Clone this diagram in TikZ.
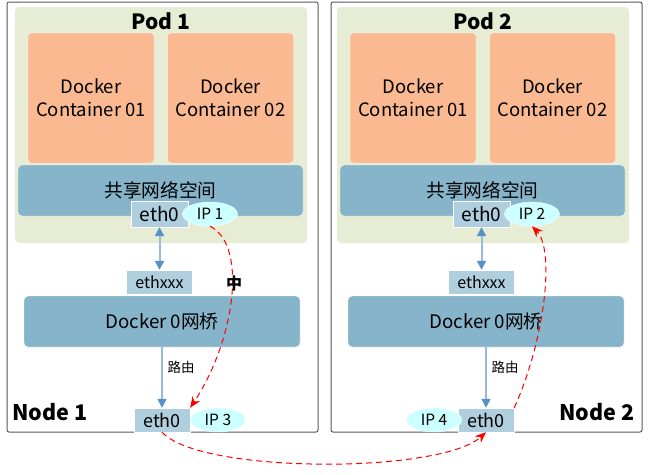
\documentclass[tikz,border=0pt]{standalone}
\usepackage{fontspec}
\setmainfont{Noto Sans CJK SC}
\usepackage{tikz}
\usetikzlibrary{arrows.meta,positioning,shapes.geometric}

\definecolor{podbg}{RGB}{230,237,212}
\definecolor{ctorange}{RGB}{250,185,145}
\definecolor{netblue}{RGB}{134,180,202}
\definecolor{ethblue}{RGB}{175,206,222}
\definecolor{ipcyan}{RGB}{204,255,255}
\definecolor{tipblue}{RGB}{88,144,200}
\definecolor{shaftblue}{RGB}{152,186,222}

\begin{document}
\begin{tikzpicture}[x=1pt,y=-1pt,
  frame/.style={draw=black!65,line width=1pt,rounded corners=2pt,fill=white,
    minimum width=311pt,minimum height=430pt},
  podbox/.style={fill=podbg,rounded corners=4pt,minimum width=292pt,minimum height=236pt},
  ctbox/.style={draw=white,fill=ctorange,rounded corners=3pt,align=center,
    minimum width=126pt,minimum height=130pt,font=\fontsize{18.5}{23}\selectfont},
  netbox/.style={draw=white,fill=netblue,rounded corners=4pt,minimum height=51pt,
    font=\fontsize{18.7}{18.7}\selectfont},
  ethbox/.style={draw=white,fill=ethblue,inner sep=0pt,minimum height=24pt,
    font=\fontsize{18}{18}\selectfont},
  ipell/.style={ellipse,draw=white,fill=ipcyan,inner sep=0pt,
    minimum width=55pt,minimum height=24pt,font=\fontsize{15.5}{15.5}\selectfont},
  link/.style={draw=shaftblue,line width=2pt},
  bluetip/.style={arrows={-{Triangle[width=9pt,length=9pt,color=tipblue]}}},
  hop/.style={red,line width=1pt,dash pattern=on 6pt off 4pt,
    -{Stealth[length=11pt,width=9pt]}}]
  \useasboundingbox (0,0) rectangle (648,474);
  % two hosts, one pod on each
  \foreach \n/\dx/\ex in {1/0/0,2/322/324}{
    \node[frame] (host\n) at (162.5+\ex,217) {};
    \node[podbox] (pod\n) at (161+\dx,125) {};
    \node[font=\bfseries\fontsize{21}{21}\selectfont] (podname\n) at (161+\dx,21) {Pod \n};
    \node[ctbox] (cta\n) at (91+\dx,98) {Docker\\Container 01};
    \node[ctbox] (ctb\n) at (230.5+\dx,98) {Docker\\Container 02};
    \node[netbox,minimum width=285pt] (ns\n) at (160.5+\dx,190.5) {共享网络空间};
    \node[ethbox,minimum width=57pt,minimum height=26pt,font=\fontsize{19}{19}\selectfont]
      (peth\n) at (159.5+\dx,214) {eth0};
    \node[ipell] (ip\n) at (210+\dx,214) {IP \n};
    \node[ethbox,minimum width=66pt,font=\fontsize{16}{16}\selectfont]
      (veth\n) at (159.5+\dx,282) {ethxxx};
    \node[netbox,minimum width=276pt] (br\n) at (162+\ex,321.5) {Docker 0网桥};
    \node[ethbox,minimum width=56pt] (heth\n) at (162+\ex,420) {eth0};
    % veth pair and route to host eth0
    \draw[link,{Triangle[width=9pt,length=9pt,color=tipblue]}-{Triangle[width=9pt,length=9pt,color=tipblue]}]
      (peth\n) -- (veth\n);
    \draw[link,line width=1.5pt,bluetip] (br\n) --
      node[pos=0.33,right=1.5pt,font=\fontsize{13.5}{13.5}\selectfont] (rt\n) {路由} (heth\n);
  }
  \node[ipell,right=0pt of heth1] (ip3) {IP 3};
  \node[ipell,left=-4pt of heth2] (ip4) {IP 4};
  \node[font=\bfseries\fontsize{21.5}{21.5}\selectfont] (hostname1) at (50,412) {Node 1};
  \node[font=\bfseries\fontsize{21.5}{21.5}\selectfont] (hostname2) at (597,412) {Node 2};
  % packet path
  \draw[hop] (ip1.south) .. controls (248,245) and (235,340) .. (heth1.north east);
  \node[font=\bfseries\fontsize{16}{16}\selectfont] (mid) at (234,283) {中};
  \draw[hop] (heth1.south) .. controls (200,474) and (440,474) .. (heth2.south);
  \draw[hop] (heth2.north east) .. controls (545,340) and (555,250) .. (ip2.south);
\end{tikzpicture}
\end{document}
